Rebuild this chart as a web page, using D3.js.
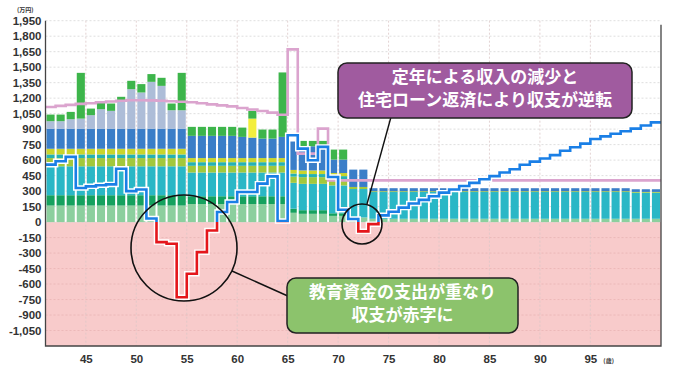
<!DOCTYPE html>
<html>
<head>
<meta charset="utf-8">
<script src="https://cdn.jsdelivr.net/npm/d3@7"></script>
<style>
  body { margin: 0; background: #fff; }
  svg { display: block; font-family: "Noto Sans CJK JP", "Noto Sans", sans-serif; }
</style>
</head>
<body>
<svg id="chart" width="680" height="386"></svg>
<script>
// ages on the x axis (one bar per year)
const ages = [41, 42, 43, 44, 45, 46, 47, 48, 49, 50, 51, 52, 53, 54, 55, 56, 57, 58, 59, 60,
    61, 62, 63, 64, 65, 66, 67, 68, 69, 70, 71, 72, 73, 74, 75, 76, 77, 78, 79, 80,
    81, 82, 83, 84, 85, 86, 87, 88, 89, 90, 91, 92, 93, 94, 95, 96, 97, 98, 99, 100, 101];

// income layers (万円), bottom to top
const lightGreen = [160, 160, 160, 160, 160, 160, 160, 160, 160, 160, 160, 160, 160, 160, 175, 175, 175, 175, 175, 175,
    175, 175, 175, 175, 90, 80, 80, 80, 60, 60, 45, 45, 32, 32, 32, 32, 32, 32, 32, 32,
    32, 32, 32, 32, 32, 32, 32, 32, 32, 32, 32, 32, 32, 32, 32, 32, 32, 32, 32, 32, 32];
const darkGreen = [100, 100, 100, 100, 100, 100, 100, 100, 100, 100, 100, 100, 100, 100, 75, 75, 75, 75, 75, 75,
    75, 75, 75, 75, 40, 35, 35, 35, 25, 25, 0, 0, 0, 0, 0, 0, 0, 0, 0, 0,
    0, 0, 0, 0, 0, 0, 0, 0, 0, 0, 0, 0, 0, 0, 0, 0, 0, 0, 0, 0, 0];
const teal = [280, 280, 280, 280, 280, 280, 280, 280, 280, 280, 280, 280, 280, 280, 230, 230, 230, 230, 230, 230,
    230, 230, 230, 230, 250, 255, 255, 255, 270, 270, 275, 275, 259, 259, 259, 259, 259, 259, 259, 259,
    259, 259, 259, 259, 259, 259, 259, 259, 259, 259, 259, 259, 259, 259, 259, 259, 259, 259, 252, 252, 252];
const yellowGreen = [80, 80, 80, 80, 80, 80, 80, 80, 80, 80, 80, 80, 80, 80, 65, 65, 65, 65, 65, 65,
    65, 65, 65, 65, 60, 65, 65, 65, 60, 60, 20, 20, 8, 8, 8, 8, 8, 8, 8, 8,
    8, 8, 8, 8, 8, 8, 8, 8, 8, 8, 8, 8, 8, 8, 8, 8, 8, 8, 8, 8, 8];
const tealThin = [35, 35, 35, 35, 35, 35, 35, 35, 35, 35, 35, 35, 35, 35, 35, 35, 35, 35, 35, 35,
    35, 35, 35, 35, 30, 30, 30, 30, 30, 30, 0, 0, 0, 0, 0, 0, 0, 0, 0, 0,
    0, 0, 0, 0, 0, 0, 0, 0, 0, 0, 0, 0, 0, 0, 0, 0, 0, 0, 0, 0, 0];
const yellow = [55, 55, 55, 55, 55, 55, 55, 55, 55, 55, 55, 55, 55, 55, 40, 40, 40, 40, 40, 40,
    40, 40, 40, 40, 35, 35, 35, 35, 30, 30, 0, 0, 0, 0, 0, 0, 0, 0, 0, 0,
    0, 0, 0, 0, 0, 0, 0, 0, 0, 0, 0, 0, 0, 0, 0, 0, 0, 0, 0, 0, 0];
const blue = [195, 195, 195, 195, 195, 195, 195, 195, 195, 195, 195, 195, 195, 195, 215, 215, 215, 215, 215, 205,
    198, 188, 188, 205, 275, 234, 234, 234, 130, 130, 168, 168, 29, 29, 29, 29, 29, 29, 29, 29,
    29, 29, 29, 29, 29, 29, 29, 29, 29, 29, 29, 29, 29, 29, 29, 29, 29, 29, 26, 26, 26];
const bonusYellow = [0, 0, 0, 0, 0, 0, 0, 0, 0, 0, 0, 0, 0, 0, 0, 0, 0, 0, 0, 0,
    184, 0, 0, 0, 0, 0, 0, 0, 0, 0, 0, 0, 0, 0, 0, 0, 0, 0, 0, 0,
    0, 0, 0, 0, 0, 0, 0, 0, 0, 0, 0, 0, 0, 0, 0, 0, 0, 0, 0, 0, 0];
const grayBlue = [72, 72, 91, 97, 130, 188, 172, 269, 382, 350, 453, 414, 178, 178, 0, 0, 0, 0, 0, 0,
    0, 0, 0, 0, 0, 0, 0, 0, 0, 0, 0, 0, 0, 0, 0, 0, 0, 0, 0, 0,
    0, 0, 0, 0, 0, 0, 0, 0, 0, 0, 0, 0, 0, 0, 0, 0, 0, 0, 0, 0, 0];
const green = [64, 64, 71, 443, 64, 71, 71, 39, 81, 81, 75, 78, 65, 362, 87, 87, 87, 87, 87, 90,
    75, 88, 88, 624, 0, 52, 52, 52, 97, 97, 0, 0, 0, 0, 0, 0, 0, 0, 0, 0,
    0, 0, 0, 0, 0, 0, 0, 0, 0, 0, 0, 0, 0, 0, 0, 0, 0, 0, 0, 0, 0];

// expenses (pink step line)
const expenses = [1115, 1125, 1135, 1145, 1150, 1160, 1168, 1175, 1180, 1180, 1178, 1175, 1170, 1165, 1160, 1150, 1140, 1130, 1120, 1105,
    1090, 1075, 1060, 1040, 1672, 663, 663, 905, 404, 404, 404, 404, 404, 404, 404, 404, 404, 404, 404, 404,
    404, 404, 404, 404, 404, 404, 404, 404, 404, 404, 404, 404, 404, 404, 404, 404, 404, 404, 404, 404, 404];

// savings balance (blue step line, red below zero)
const balance = [556, 589, 631, 330, 346, 356, 365, 517, 300, 315, 35, -194, -210, -728, -501, -291, -81, 97, 194, 291,
    291, 372, 443, 10, 841, 711, 598, 728, 437, 120, 30, -90, -20, 65, 100, 140, 180, 215, 250, 285,
    315, 350, 380, 415, 445, 480, 512, 555, 585, 615, 648, 690, 725, 760, 805, 830, 855, 880, 905, 935, 965];

const yTicks = [1950, 1800, 1650, 1500, 1350, 1200, 1050, 900, 750, 600, 450, 300, 150, 0,
    -150, -300, -450, -600, -750, -900, -1050];
const xTicks = [45, 50, 55, 60, 65, 70, 75, 80, 85, 90, 95];

const layerKeys = ['lightGreen', 'darkGreen', 'teal', 'yellowGreen', 'tealThin', 'yellow', 'blue', 'bonusYellow', 'grayBlue', 'green'];
const layerColors = {
    lightGreen: '#8ccf9e',
    darkGreen: '#15a15e',
    teal: '#2ab7c6',
    yellowGreen: '#a2c83c',
    tealThin: '#25b2b4',
    yellow: '#cad52c',
    blue: '#3a7ec8',
    bonusYellow: '#f3ee3c',
    grayBlue: '#adbdd8',
    green: '#3db54b'
};

const svg = d3.select('#chart');
const margin = { left: 45.5, right: 661, top: 20.7, bottom: 346 };

const x = d3.scaleLinear().domain([41, 102]).range([margin.left, margin.right]);
const y = d3.scaleLinear().domain([-1200, 1950]).range([margin.bottom, margin.top]);

const numberFormat = d3.formatLocale({ decimal: '.', thousands: ',', grouping: [3], currency: ['', ''], minus: '-' }).format(',');

// negative zone
svg.append('rect')
    .attr('x', x(41))
    .attr('y', y(0))
    .attr('width', x(102) - x(41))
    .attr('height', y(-1200) - y(0))
    .attr('fill', '#f8cbcb');

// grid
const grid = svg.append('g').attr('stroke-dasharray', '2,2').attr('stroke-width', 0.8);
grid.selectAll('line.h')
    .data(yTicks)
    .join('line')
    .attr('class', 'h')
    .attr('x1', x(41))
    .attr('x2', x(102))
    .attr('y1', (d) => y(d))
    .attr('y2', (d) => y(d))
    .attr('stroke', (d) => (d < 0 ? '#e8b4b4' : '#d6d6d6'));
grid.selectAll('line.v')
    .data(xTicks)
    .join('line')
    .attr('class', 'v')
    .attr('x1', (d) => x(d))
    .attr('x2', (d) => x(d))
    .attr('y1', y(1950))
    .attr('y2', y(-1200))
    .attr('stroke', '#dcc8c8');

// stacked bars
const rows = ages.map((age, i) => ({
    age,
    lightGreen: lightGreen[i],
    darkGreen: darkGreen[i],
    teal: teal[i],
    yellowGreen: yellowGreen[i],
    tealThin: tealThin[i],
    yellow: yellow[i],
    blue: blue[i],
    bonusYellow: bonusYellow[i],
    grayBlue: grayBlue[i],
    green: green[i]
}));
const stacked = d3.stack().keys(layerKeys)(rows);

svg.append('g')
    .selectAll('g')
    .data(stacked)
    .join('g')
    .attr('fill', (s) => layerColors[s.key])
    .selectAll('rect')
    .data((s) => s.filter((d) => d[1] > d[0]))
    .join('rect')
    .attr('x', (d) => x(d.data.age) + 1)
    .attr('width', (d) => x(d.data.age + 1) - x(d.data.age) - 2)
    .attr('y', (d) => y(d[1]))
    .attr('height', (d) => y(d[0]) - y(d[1]));

// step lines
const stepPoints = (values) => {
    const pts = values.map((v, i) => [x(ages[i]), y(v)]);
    pts.push([x(ages[ages.length - 1] + 1), y(values[values.length - 1])]);
    return pts;
};
const stepLine = d3.line().curve(d3.curveStepAfter);

svg.append('path')
    .attr('d', stepLine(stepPoints(expenses)))
    .attr('fill', 'none')
    .attr('stroke', '#dba4ce')
    .attr('stroke-width', 2.6);

const defs = svg.append('defs');
defs.append('clipPath').attr('id', 'above')
    .append('rect').attr('x', 0).attr('y', 0).attr('width', 680).attr('height', y(0));
defs.append('clipPath').attr('id', 'below')
    .append('rect').attr('x', 0).attr('y', y(0)).attr('width', 680).attr('height', 386 - y(0));

const balancePath = stepLine(stepPoints(balance));
svg.append('path')
    .attr('d', balancePath)
    .attr('fill', 'none')
    .attr('stroke', '#fff')
    .attr('stroke-width', 5.5);
svg.append('path')
    .attr('d', balancePath)
    .attr('fill', 'none')
    .attr('stroke', '#1a7fe6')
    .attr('stroke-width', 2.6)
    .attr('clip-path', 'url(#above)');
svg.append('path')
    .attr('d', balancePath)
    .attr('fill', 'none')
    .attr('stroke', '#e4161b')
    .attr('stroke-width', 2.6)
    .attr('clip-path', 'url(#below)');

// frame
svg.append('path')
    .attr('d', `M${x(41)},${y(1950)}V${y(-1200)}H${x(102)}V${y(1950) + 4}`)
    .attr('fill', 'none')
    .attr('stroke', '#444')
    .attr('stroke-width', 1.3);

// axes
const yAxis = svg.append('g')
    .attr('transform', `translate(${x(41)},0)`)
    .call(d3.axisLeft(y).tickValues(yTicks).tickSize(0).tickPadding(4).tickFormat(numberFormat));
yAxis.select('.domain').remove();
yAxis.selectAll('text')
    .attr('font-size', 11.5)
    .attr('font-weight', 700)
    .attr('fill', '#333');

const xAxis = svg.append('g')
    .attr('transform', `translate(0,${y(-1200)})`)
    .call(d3.axisBottom(x).tickValues(xTicks).tickSize(0).tickPadding(9).tickFormat(d3.format('d')));
xAxis.select('.domain').remove();
xAxis.selectAll('text')
    .attr('font-size', 11.5)
    .attr('font-weight', 700)
    .attr('fill', '#333');

svg.append('text')
    .attr('x', 17).attr('y', 12)
    .attr('font-size', 6).attr('font-weight', 700).attr('fill', '#333')
    .text('(万円)');
svg.append('text')
    .attr('x', x(95) + 13).attr('y', 363)
    .attr('font-size', 6).attr('font-weight', 700).attr('fill', '#333')
    .text('(歳)');

// annotations
const notes = svg.append('g');
notes.append('circle')
    .attr('cx', 184).attr('cy', 248).attr('r', 53)
    .attr('fill', 'none').attr('stroke', '#111').attr('stroke-width', 1.6);
notes.append('circle')
    .attr('cx', 362).attr('cy', 224).attr('r', 20)
    .attr('fill', 'none').attr('stroke', '#111').attr('stroke-width', 1.6);
notes.append('line')
    .attr('x1', 367).attr('y1', 204).attr('x2', 391).attr('y2', 117)
    .attr('stroke', '#111').attr('stroke-width', 1.4);
notes.append('line')
    .attr('x1', 232).attr('y1', 271).attr('x2', 290).attr('y2', 297)
    .attr('stroke', '#111').attr('stroke-width', 1.4);

const callouts = [
    { x: 338, y: 63, w: 294, h: 55, fill: '#a05b9f', lines: ['定年による収入の減少と', '住宅ローン返済により収支が逆転'] },
    { x: 287, y: 278, w: 231, h: 55, fill: '#8cc36c', lines: ['教育資金の支出が重なり', '収支が赤字に'] }
];
callouts.forEach((c) => {
    notes.append('rect')
        .attr('x', c.x).attr('y', c.y).attr('width', c.w).attr('height', c.h)
        .attr('rx', 9)
        .attr('fill', c.fill).attr('stroke', '#222').attr('stroke-width', 1.5);
    c.lines.forEach((t, i) => {
        notes.append('text')
            .attr('x', c.x + c.w / 2)
            .attr('y', c.y + 20 + i * 23)
            .attr('text-anchor', 'middle')
            .attr('font-size', 17)
            .attr('font-weight', 700)
            .attr('fill', '#fff')
            .text(t);
    });
});
</script>
</body>
</html>
